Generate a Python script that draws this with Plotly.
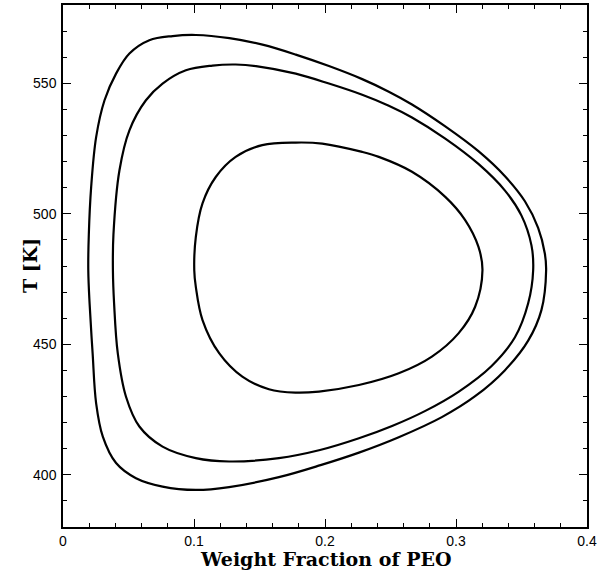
import plotly.graph_objects as go

# Outer curve (clockwise, starting at the top)
outer_x = [0.1014, 0.1270, 0.1523, 0.1777, 0.2030, 0.2284, 0.2487, 0.2664, 0.2918, 0.3171,
           0.3374, 0.3526, 0.3627, 0.3678, 0.3688, 0.3652, 0.3551, 0.3374, 0.3146, 0.2892,
           0.2563, 0.2259, 0.1966, 0.1648, 0.1268, 0.1014, 0.0760, 0.0557, 0.0405, 0.0304,
           0.0253, 0.0226, 0.0203, 0.0193, 0.0197, 0.0215, 0.0253, 0.0317, 0.0405, 0.0507,
           0.0659, 0.0837, 0.1014]
outer_t = [568.5, 567.3, 564.8, 561.0, 556.6, 551.6, 546.8, 541.9, 533.5, 524.0,
           514.4, 504.8, 494.6, 484.8, 478.4, 463.1, 451.4, 440.1, 430.1, 422.1,
           414.4, 408.5, 403.7, 399.1, 395.3, 394.2, 395.5, 398.7, 404.5, 414.6,
           427.4, 446.6, 465.7, 478.4, 492.0, 510.3, 529.4, 543.5, 553.7, 561.4,
           566.5, 568.1, 568.5]

# Middle curve
middle_x = [0.1318, 0.1473, 0.1777, 0.2030, 0.2284, 0.2487, 0.2664, 0.2918, 0.3171, 0.3374,
            0.3500, 0.3576, 0.3589, 0.3551, 0.3450, 0.3272, 0.3019, 0.2766, 0.2512, 0.2259,
            0.1962, 0.1648, 0.1268, 0.1014, 0.0760, 0.0583, 0.0481, 0.0418, 0.0390, 0.0381,
            0.0385, 0.0431, 0.0507, 0.0633, 0.0760, 0.0938, 0.1141, 0.1318]
middle_t = [557.2, 556.6, 553.7, 549.9, 545.6, 541.4, 536.9, 528.8, 519.1, 508.9,
            499.3, 487.9, 478.4, 465.7, 452.7, 441.7, 431.8, 424.5, 418.7, 414.0,
            409.5, 406.4, 405.1, 406.4, 410.8, 418.5, 429.9, 446.6, 465.7, 478.4,
            492.0, 516.7, 532.0, 543.5, 549.9, 555.0, 556.8, 557.2]

# Inner curve
inner_x = [0.1777, 0.1979, 0.2284, 0.2411, 0.2664, 0.2918, 0.3070, 0.3171, 0.3202, 0.3146,
           0.3019, 0.2816, 0.2563, 0.2259, 0.1954, 0.1774, 0.1572, 0.1369, 0.1192, 0.1065,
           0.1014, 0.1002, 0.1014, 0.1065, 0.1166, 0.1318, 0.1521, 0.1777]
inner_t = [527.3, 526.9, 523.7, 521.8, 516.1, 506.5, 497.6, 487.4, 478.4, 464.4,
           454.2, 445.3, 438.9, 434.4, 431.9, 431.5, 432.8, 437.6, 446.6, 459.3,
           472.0, 478.4, 491.2, 504.0, 514.1, 521.8, 526.3, 527.3]

x_ticks = [0, 0.1, 0.2, 0.3, 0.4]
x_tick_labels = ["0", "0.1", "0.2", "0.3", "0.4"]
y_ticks = [400, 450, 500, 550]
y_tick_labels = ["400", "450", "500", "550"]
x_title = "Weight Fraction of PEO"
y_title = "T [K]"

fig = go.Figure()
for xs, ts in [(outer_x, outer_t), (middle_x, middle_t), (inner_x, inner_t)]:
    fig.add_trace(go.Scatter(x=xs, y=ts, mode="lines",
                             line=dict(color="black", width=2.2, shape="spline", smoothing=1.0),
                             showlegend=False, hoverinfo="skip"))

axis_common = dict(
    showgrid=False, zeroline=False, showline=True, linecolor="black", linewidth=1.5,
    mirror="allticks", ticks="inside", ticklen=8, tickwidth=1.2, tickcolor="black",
    tickfont=dict(family="Liberation Sans, Arial, sans-serif", size=14, color="black"),
    ticklabeloverflow="allow",
)

fig.update_xaxes(
    range=[0, 0.4], tickvals=x_ticks, ticktext=x_tick_labels,
    minor=dict(dtick=0.02, ticks="inside", ticklen=4, tickcolor="black", tickwidth=1),
    ticklabelstandoff=0,
    **axis_common,
)
fig.update_yaxes(
    range=[380, 580], tickvals=y_ticks, ticktext=y_tick_labels,
    minor=dict(dtick=10, ticks="inside", ticklen=4, tickcolor="black", tickwidth=1),
    ticklabelstandoff=2,
    **axis_common,
)

title_font = dict(family="DejaVu Serif, serif", size=19, color="black", weight="bold")
fig.add_annotation(text=x_title, xref="paper", yref="paper", x=0.502, y=0,
                   xanchor="center", yanchor="middle", yshift=-32, showarrow=False,
                   font=title_font)
fig.add_annotation(text=y_title, xref="paper", yref="paper", x=0, y=0.5,
                   xanchor="center", yanchor="middle", xshift=-33, textangle=-90,
                   showarrow=False, font=title_font)

fig.update_layout(
    width=597, height=572,
    margin=dict(l=63, r=10, t=5, b=45, autoexpand=False),
    paper_bgcolor="white", plot_bgcolor="white",
)

fig.write_html("out.html")
